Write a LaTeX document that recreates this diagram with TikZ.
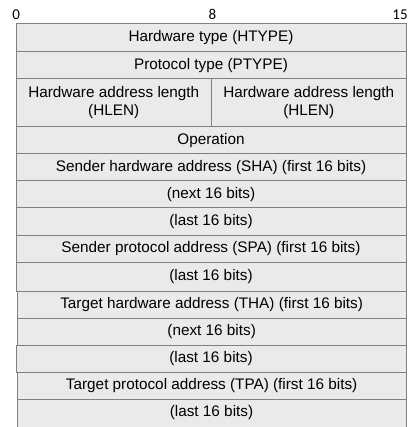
\documentclass[tikz,border=0pt]{standalone}
\usepackage{fontspec}
\setmainfont{Liberation Sans}
\newfontfamily\bitfont{Carlito}
\definecolor{cellgray}{HTML}{EAEAEA}
\definecolor{linegray}{HTML}{808080}
\tikzset{
  field/.style={draw=linegray, fill=cellgray, line width=1pt, inner sep=0pt,
    align=center, font=\fontsize{15.3}{17.5}\selectfont},
  bitlabel/.style={inner sep=0pt, font=\bitfont\fontsize{15}{17}\selectfont}
}
% \fieldbox{name}{left}{top}{right}{bottom}{text}
\newcommand{\fieldbox}[6]{%
  \pgfmathsetmacro{\fw}{#4-#2}\pgfmathsetmacro{\fh}{#5-#3}%
  \node[field, minimum width=\fw pt, minimum height=\fh pt]
    (#1) at ({(#2+#4)/2},{(#3+#5)/2}) {#6};}
\begin{document}
\begin{tikzpicture}[x=1pt,y=-1pt]
  \useasboundingbox[fill=white] (0,0) rectangle (410,427);
  % bit positions
  \node[bitlabel] (b0)  at (16.3,14.5) {0};
  \node[bitlabel] (b8)  at (212.5,14.5) {8};
  \node[bitlabel] (b15) at (400,14.5) {15};
  % header fields
  \fieldbox{htype}{16}{23.5}{406}{51.5}{Hardware type (HTYPE)}
  \fieldbox{ptype}{16}{51.5}{406}{79}{Protocol type (PTYPE)}
  \fieldbox{hlen}{16}{79}{211.5}{126.5}{Hardware address length\\(HLEN)}
  \fieldbox{plen}{211.5}{79}{406}{126.5}{Hardware address length\\(HLEN)}
  \fieldbox{oper}{16}{126.5}{406}{154}{Operation}
  % sender addresses
  \fieldbox{shaA}{16}{154}{406}{181}{Sender hardware address (SHA) (first 16 bits)}
  \fieldbox{shaB}{16}{181}{406}{208}{(next 16 bits)}
  \fieldbox{shaC}{16}{208}{406}{235}{(last 16 bits)}
  \fieldbox{spaA}{16}{235}{406}{262}{Sender protocol address (SPA) (first 16 bits)}
  \fieldbox{spaB}{16}{262}{406}{291}{(last 16 bits)}
  % target addresses
  \fieldbox{thaA}{17.3}{291}{406}{318}{Target hardware address (THA) (first 16 bits)}
  \fieldbox{thaB}{17.3}{318}{406}{345}{(next 16 bits)}
  \fieldbox{thaC}{16}{345}{406}{372}{(last 16 bits)}
  \fieldbox{tpaA}{17.3}{372}{406}{399}{Target protocol address (TPA) (first 16 bits)}
  \fieldbox{tpaB}{17.3}{399}{406}{430}{}
  \node[field, draw=none, fill=none] (tpaBtext) at (211.5,413) {(last 16 bits)};
\end{tikzpicture}
\end{document}
